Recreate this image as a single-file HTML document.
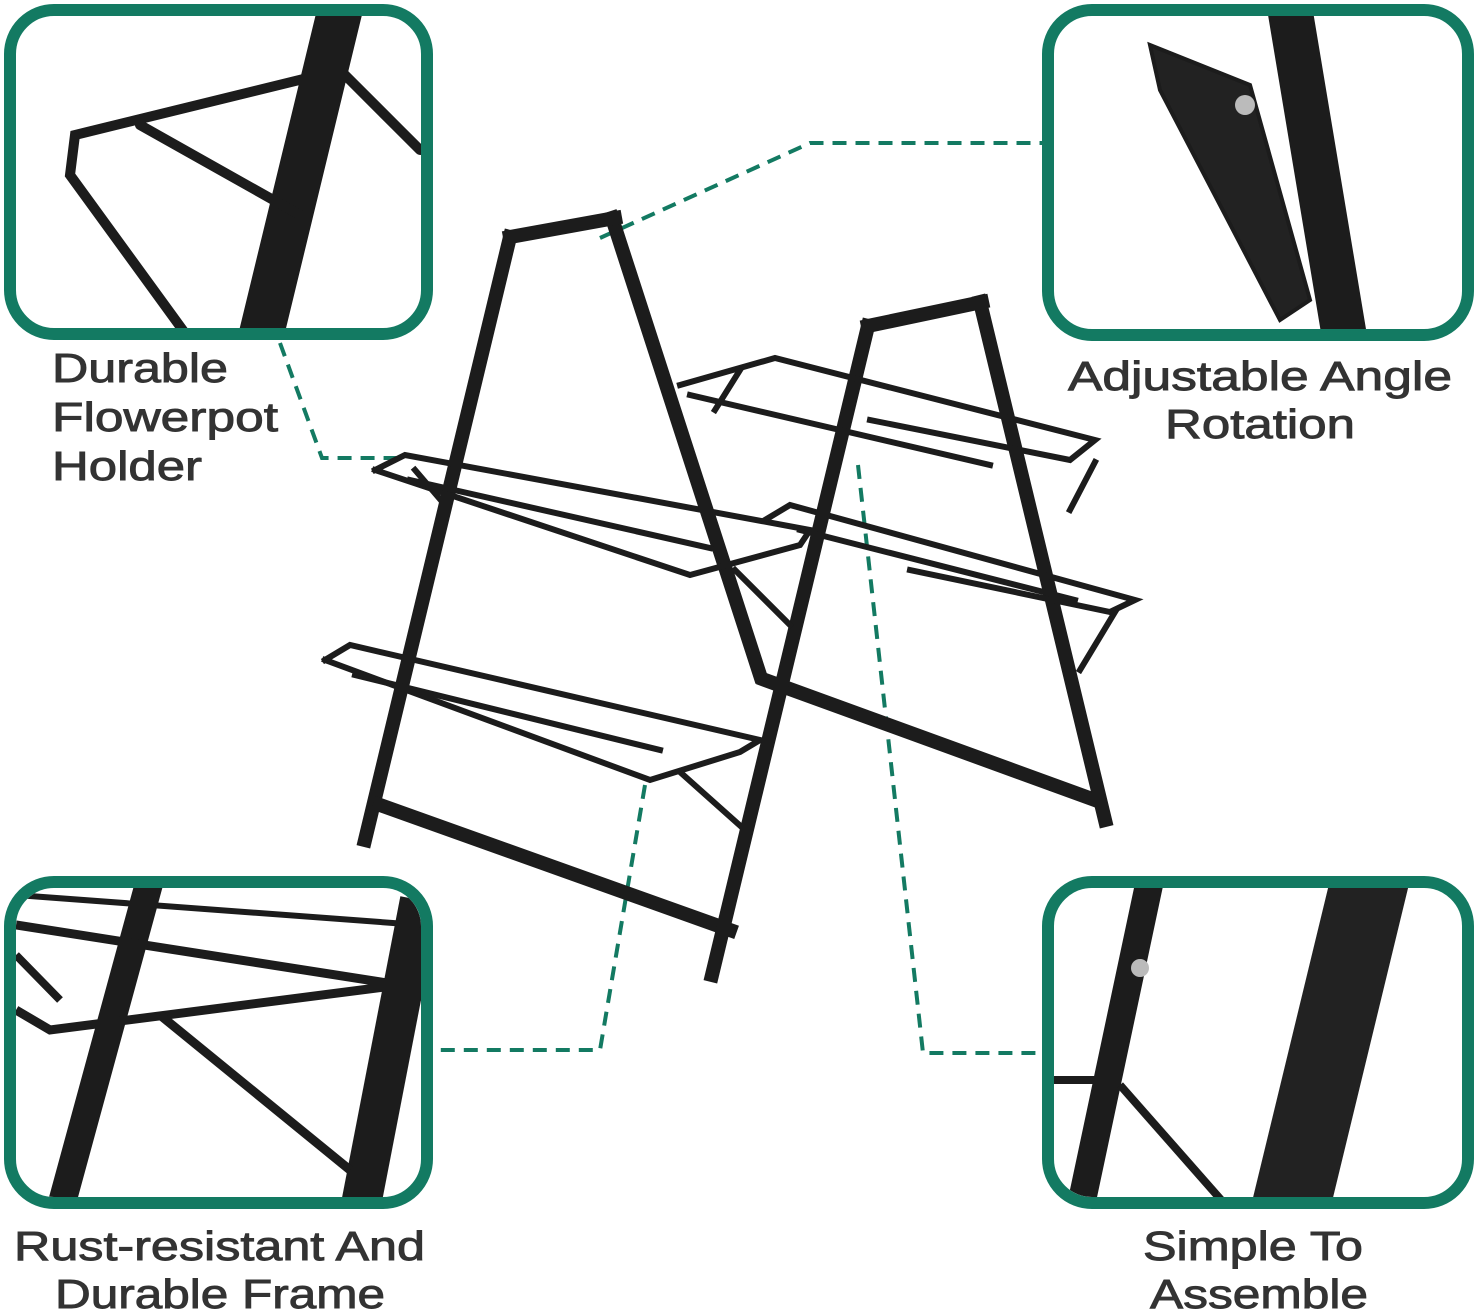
<!DOCTYPE html>
<html><head><meta charset="utf-8"><style>
html,body{margin:0;padding:0;background:#fff;}
svg{display:block}
text{font-family:"Liberation Sans",sans-serif;fill:#333;stroke:#333;stroke-width:0.9;font-size:41px;}
</style></head><body>
<svg width="1478" height="1314" viewBox="0 0 1478 1314" xmlns="http://www.w3.org/2000/svg">
<g fill="none" stroke="#137a62" stroke-width="4" stroke-dasharray="14,9">
<polyline points="600,238 810,143 1043,143"/>
<polyline points="280,343 322,458 405,458"/>
<polyline points="645,785 600,1050 435,1050"/>
<polyline points="858,465 923,1053 1043,1053"/>
</g>
<g stroke="#1c1c1c" stroke-linecap="square" fill="none">
<g stroke-width="14">
<line x1="510" y1="237" x2="365" y2="840"/>
<line x1="612" y1="218" x2="760" y2="675"/>
<line x1="510" y1="237" x2="615" y2="218"/>
<line x1="380" y1="805" x2="730" y2="930"/>
<line x1="765" y1="680" x2="1095" y2="800"/>
<line x1="868" y1="326" x2="712" y2="975"/>
<line x1="980" y1="302" x2="1105" y2="820"/>
<line x1="868" y1="326" x2="982" y2="302"/>
</g>
<g stroke-width="6">
<polyline points="680,385 775,358 1095,440 1070,460 870,420"/>
<polyline points="690,395 990,465"/>
<polyline points="375,470 405,455 810,530 800,545 690,575 375,470"/>
<polyline points="410,480 710,548"/>
<polyline points="765,520 790,505 1135,600 1110,612 910,570"/>
<polyline points="800,530 1075,600"/>
<polyline points="325,660 350,645 760,740 740,752 650,780 325,660"/>
<polyline points="355,675 660,750"/>
<line x1="680" y1="772" x2="745" y2="830"/>
<line x1="735" y1="570" x2="790" y2="625"/>
<line x1="1095" y1="462" x2="1070" y2="510"/>
<line x1="1115" y1="612" x2="1080" y2="670"/>
<line x1="740" y1="370" x2="715" y2="410"/>
<line x1="415" y1="470" x2="445" y2="505"/>
</g>
</g>
<defs>
<clipPath id="c1"><rect x="16" y="16" width="405" height="312" rx="38"/></clipPath>
<clipPath id="c2"><rect x="1054" y="16" width="408" height="313" rx="38"/></clipPath>
<clipPath id="c3"><rect x="16" y="888" width="405" height="309" rx="38"/></clipPath>
<clipPath id="c4"><rect x="1054" y="888" width="408" height="309" rx="38"/></clipPath>
</defs>
<g clip-path="url(#c1)" stroke="#1c1c1c" fill="none" stroke-linecap="round">
<line x1="340" y1="10" x2="260" y2="340" stroke-width="45"/>
<polyline points="420,150 340,70 75,135 70,175 190,340" stroke-width="10"/>
<line x1="140" y1="125" x2="300" y2="215" stroke-width="10"/>
</g>
<g clip-path="url(#c2)" stroke="#1c1c1c" fill="none">
<line x1="1290" y1="10" x2="1345" y2="340" stroke-width="45"/>
<polygon points="1150,45 1250,85 1310,300 1280,320 1160,90" fill="#222" stroke-width="4"/>
<circle cx="1245" cy="105" r="10" fill="#bbb" stroke="none"/>
</g>
<g clip-path="url(#c3)" stroke="#1c1c1c" fill="none">
<line x1="150" y1="880" x2="60" y2="1210" stroke-width="28"/>
<line x1="420" y1="900" x2="360" y2="1210" stroke-width="40"/>
<polyline points="16,925 400,985 50,1030 16,1010" stroke-width="9"/>
<line x1="16" y1="955" x2="60" y2="1000" stroke-width="8"/>
<line x1="160" y1="1015" x2="350" y2="1170" stroke-width="9"/>
<line x1="16" y1="895" x2="420" y2="925" stroke-width="6"/>
</g>
<g clip-path="url(#c4)" stroke="#1c1c1c" fill="none">
<line x1="1150" y1="880" x2="1080" y2="1210" stroke-width="28"/>
<polygon points="1330,880 1410,880 1330,1210 1250,1210" fill="#222" stroke="none"/>
<line x1="1054" y1="1080" x2="1110" y2="1080" stroke-width="8"/>
<line x1="1120" y1="1085" x2="1230" y2="1210" stroke-width="8"/>
<circle cx="1140" cy="968" r="9" fill="#bbb" stroke="none"/>
</g>
<g fill="none" stroke="#137a62" stroke-width="12">
<rect x="10" y="10" width="417" height="324" rx="44"/>
<rect x="1048" y="10" width="420" height="325" rx="44"/>
<rect x="10" y="882" width="417" height="321" rx="44"/>
<rect x="1048" y="882" width="420" height="321" rx="44"/>
</g>
<text x="52" y="382" textLength="176" lengthAdjust="spacingAndGlyphs">Durable</text>
<text x="52" y="431" textLength="226" lengthAdjust="spacingAndGlyphs">Flowerpot</text>
<text x="52" y="480" textLength="150" lengthAdjust="spacingAndGlyphs">Holder</text>
<text x="1068" y="390" textLength="384" lengthAdjust="spacingAndGlyphs">Adjustable Angle</text>
<text x="1165" y="438" textLength="190" lengthAdjust="spacingAndGlyphs">Rotation</text>
<text x="14" y="1260" textLength="411" lengthAdjust="spacingAndGlyphs">Rust-resistant And</text>
<text x="55" y="1308" textLength="330" lengthAdjust="spacingAndGlyphs">Durable Frame</text>
<text x="1143" y="1260" textLength="220" lengthAdjust="spacingAndGlyphs">Simple To</text>
<text x="1150" y="1308" textLength="218" lengthAdjust="spacingAndGlyphs">Assemble</text>
</svg>
</body></html>
